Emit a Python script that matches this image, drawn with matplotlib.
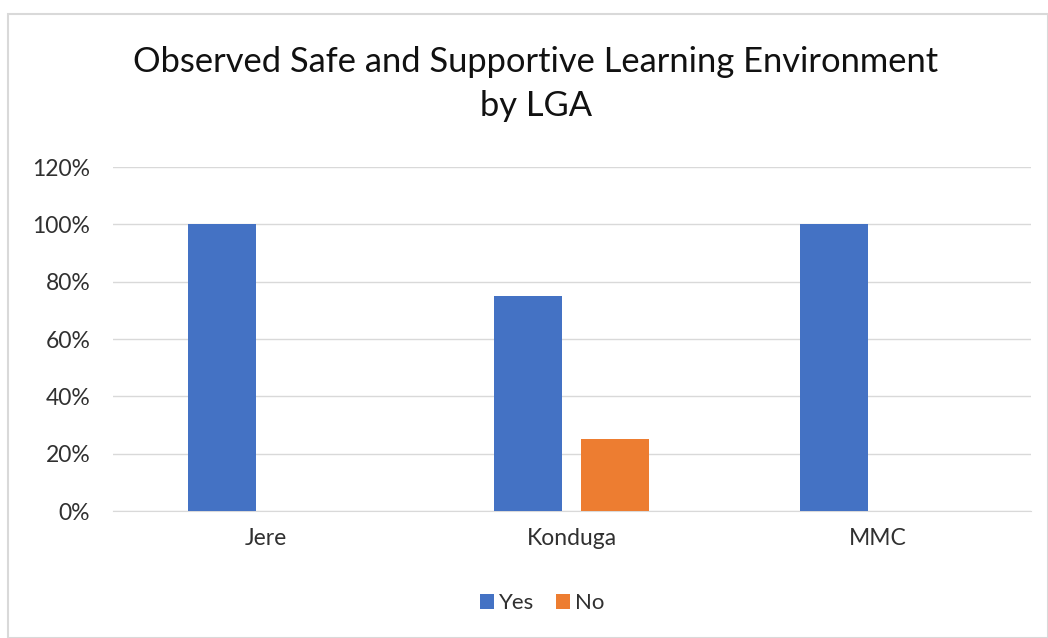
import matplotlib.pyplot as plt
import numpy as np
from matplotlib.ticker import FuncFormatter

# Data
lgas = ["Jere", "Konduga", "MMC"]
yes_vals = [100, 75, 100]
no_vals = [0, 25, 0]

plt.rcParams['font.family'] = ['Lato', 'DejaVu Sans']

fig = plt.figure(figsize=(10.48, 6.38), dpi=100)
ax = fig.add_axes([112.5 / 1048, 1 - 511 / 638, (1030.5 - 112.5) / 1048, (511 - 167) / 638])

x = np.arange(len(lgas))
w = 0.222
off = 0.142
blue = "#4472C4"
orange = "#ED7D31"
text_col = "#303030"

ax.bar(x - off, yes_vals, width=w, color=blue, label="Yes", zorder=3)
ax.bar(x + off, no_vals, width=w, color=orange, label="No", zorder=3)

ax.set_xlim(-0.5, 2.5)
ax.set_ylim(0, 120)
ax.set_yticks(range(0, 121, 20))
ax.yaxis.set_major_formatter(FuncFormatter(lambda v, p: f"{int(v)}%"))
ax.set_xticks(x)
ax.set_xticklabels(lgas)

ax.grid(axis="y", color="#D9D9D9", linewidth=1, zorder=0)
for s in ["top", "right", "left"]:
    ax.spines[s].set_visible(False)
ax.spines["bottom"].set_color("#D9D9D9")
ax.tick_params(axis="both", length=0, labelsize=16.5, colors=text_col)
ax.tick_params(axis="y", pad=16)
ax.tick_params(axis="x", pad=12)

fig.text(536 / 1048, 1 - 62 / 638, "Observed Safe and Supportive Learning Environment", ha="center", va="center",
         fontsize=24.8, color="#111111")
fig.text(536 / 1048, 1 - 106 / 638, "by LGA", ha="center", va="center", fontsize=24.8, color="#111111")

fig.legend(loc="center", bbox_to_anchor=(542 / 1048, 1 - 603 / 638), ncol=2, frameon=False,
           fontsize=16, handlelength=0.65, handleheight=0.65, handletextpad=0.2, columnspacing=1.0,
           labelcolor=text_col)

# outer border
fig.patches.append(plt.Rectangle((8 / 1048, 0), 1 - 8 / 1048, 1 - 14 / 638, transform=fig.transFigure,
                                 fill=False, edgecolor="#D9D9D9", linewidth=1.5))

fig.savefig("out.png", dpi=100)
